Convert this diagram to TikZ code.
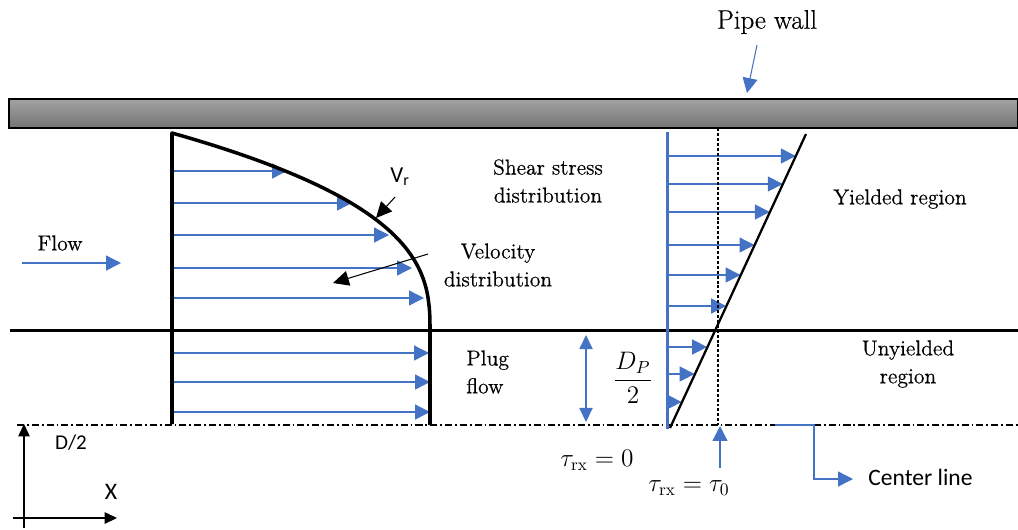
\documentclass[tikz,border=0pt]{standalone}
\usepackage{amsmath}
\usepackage{fontspec}
\newfontfamily\labelfont{Carlito}
\newfontfamily\bodyfont{Latin Modern Roman}[FakeBold=0.5]
\usepackage{tikz}
\usetikzlibrary{arrows.meta,positioning,calc}
\definecolor{Blue}{HTML}{4472C4}
\definecolor{WallTop}{HTML}{A2A2A2}
\definecolor{WallBottom}{HTML}{747474}

\begin{document}
\begin{tikzpicture}[x=0.02cm,y=-0.02cm,
  txt/.style={font=\bodyfont\fontsize{12.3}{15.9}\selectfont,inner sep=0pt,align=center},
  sans/.style={font=\labelfont\fontsize{13}{15}\selectfont,inner sep=0pt},
  flowarrow/.style={Blue,line width=0.8pt,-{Triangle[length=8.5pt,width=8.5pt]}},
  callout/.style={black,line width=0.6pt,-{Triangle[length=9pt,width=8.5pt]}},
  axisarrow/.style={black,line width=0.7pt,-{Triangle[length=7pt,width=6.5pt]}},
  profile/.style={line width=2pt}]
  \useasboundingbox (0,0) rectangle (1018,529);
  \draw[line width=0.9pt,top color=WallTop,bottom color=WallBottom] (9,99) rectangle (1018,128);
  \draw[profile] (10,330.5) -- (1018,330.5);
  \draw[line width=0.6pt,dash pattern=on 4pt off 1.7pt on 1pt off 1.7pt] (17,425) -- (1018,425);
  \foreach \y/\t in {171/287,203/352,235/389,268/412,298/424,353/429,382/430,412/430}
    \draw[flowarrow] (172,\y) -- (\t,\y);
  \draw[profile,line join=round] (172,424) -- (172,133)
    -- plot[domain=1:0.01,samples=60] ({172+258*(1-\x^2.7)},{330-197*\x}) -- (430,330) -- (430,425);
  \draw[Blue,line width=1.7pt] (667,132) -- (667,429);
  \foreach \y in {156,184,212,245,275,306,347,374,402}
    \draw[flowarrow] (668,\y) -- ({670+(427-\y)*0.4642},\y);
  \draw[line width=1.3pt] (670,428) -- (806,134);
  \draw[line width=0.6pt,dash pattern=on 1.7pt off 1.1pt] (718,128) -- (718,425);
  \node[txt,font=\bodyfont\fontsize{15.3}{18}\selectfont] (pipewall) at (767,22) {Pipe wall};
  \coordinate (walltail) at (757,45);
  \coordinate (walltip) at (747,93);
  \draw[flowarrow,line width=0.6pt] (walltail) -- (walltip);
  \node[txt] (flow) at (60,243) {Flow};
  \coordinate (flowtail) at (22,263);
  \coordinate (flowtip) at (121,263);
  \draw[flowarrow] (flowtail) -- (flowtip);
  \node[sans] (vr) at (400,177) {V\textsubscript{r}};
  \coordinate (vrtail) at (395,197);
  \coordinate (vrtip) at (376,218);
  \draw[callout] (vrtail) -- (vrtip);
  \node[txt] (veldist) at (498,265) {Velocity\\distribution};
  \coordinate (veltail) at (428,254);
  \coordinate (veltip) at (333,283);
  \draw[callout] (veltail) -- (veltip);
  \node[txt] (sheardist) at (548,181) {Shear stress\\distribution};
  \node[txt] (yielded) at (900,199) {Yielded region};
  \node[txt] (unyielded) at (908,364) {Unyielded\\region};
  \node[txt,align=left,anchor=west] (plug) at (466,372) {Plug\\flow};
  \node[txt,font=\fontsize{14}{17}\selectfont] (dp) at (633,378) {$\dfrac{D_P}{2}$};
  \coordinate (dptop) at (586,335);
  \coordinate (dpbottom) at (586,422);
  \draw[Blue,line width=0.8pt,{Triangle[length=8pt,width=7.5pt]}-{Triangle[length=8pt,width=7.5pt]}] (dptop) -- (dpbottom);
  \node[txt,font=\fontsize{14}{17}\selectfont] (tauzero) at (597,460) {$\tau_{\mathrm{rx}} = 0$};
  \node[txt,font=\fontsize{14}{17}\selectfont] (tauyield) at (689,488) {$\tau_{\mathrm{rx}} = \tau_0$};
  \coordinate (yieldtail) at (720,468);
  \coordinate (yieldtip) at (720,426);
  \draw[flowarrow] (yieldtail) -- (yieldtip);
  \node[sans,font=\labelfont\fontsize{13.4}{16}\selectfont,anchor=west] (centerline) at (868,477) {Center line};
  \coordinate (cltail) at (775,425);
  \coordinate (cltip) at (853,479);
  \draw[flowarrow] (cltail) -- (814,425) |- (cltip);
  \coordinate (axisup) at (24,424);
  \coordinate (axisright) at (117,518);
  \draw[axisarrow] (24,528) -- (axisup);
  \draw[axisarrow] (13,518) -- (axisright);
  \node[sans,font=\labelfont\fontsize{12}{14}\selectfont] (dhalf) at (71,443) {D/2};
  \node[sans,font=\labelfont\fontsize{13.5}{16}\selectfont] (xlabel) at (111,492) {X};
\end{tikzpicture}
\end{document}
